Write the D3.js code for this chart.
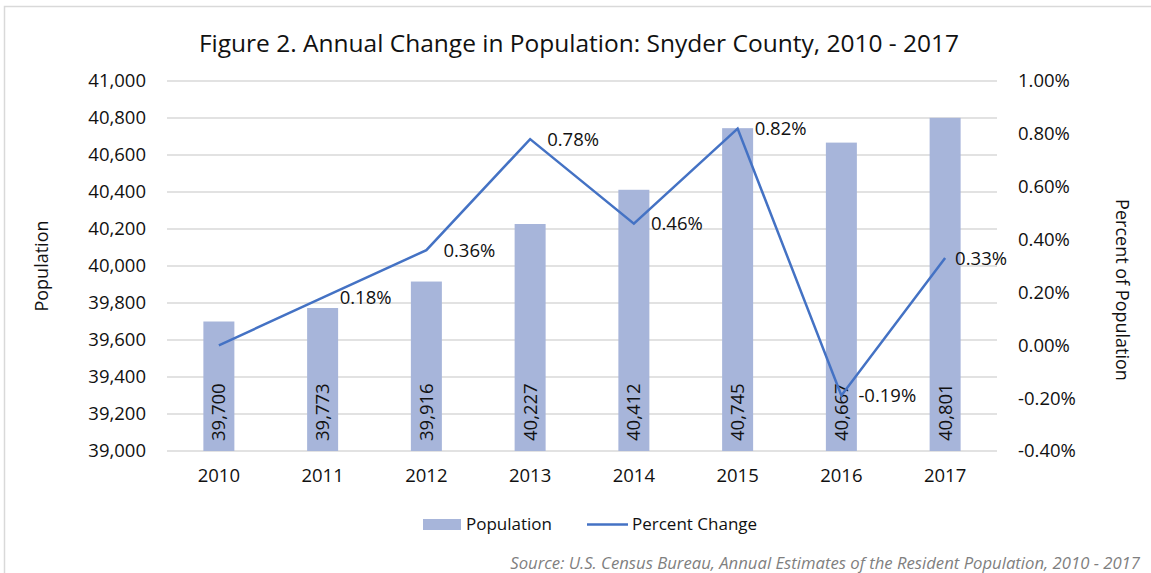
<!DOCTYPE html>
<html>
<head>
<meta charset="utf-8">
<script src="https://cdn.jsdelivr.net/npm/d3@7"></script>
<style>
  body { margin: 0; background: #fff; }
  text { font-family: "Open Sans", sans-serif; fill: #000; }
</style>
</head>
<body>
<div id="chart"></div>
<script>
const years = ["2010", "2011", "2012", "2013", "2014", "2015", "2016", "2017"];
const population = [39700, 39773, 39916, 40227, 40412, 40745, 40667, 40801];
const percentChange = [0.0, 0.18, 0.36, 0.78, 0.46, 0.82, -0.19, 0.33];
const showPctLabel = [false, true, true, true, true, true, true, true];
const popTicks = [39000, 39200, 39400, 39600, 39800, 40000, 40200, 40400, 40600, 40800, 41000];
const pctTicks = [-0.4, -0.2, 0.0, 0.2, 0.4, 0.6, 0.8, 1.0];

const width = 1151, height = 573;
const plot = { left: 167, right: 997, top: 81, bottom: 451 };

// Excel style: plain hyphen for negatives
const pctFmt = d => d3.format(".2f")(d).replace("\u2212", "-") + "%";

const svg = d3.select("#chart").append("svg")
    .attr("width", width)
    .attr("height", height);

// outer frame (Excel chart border)
svg.append("rect")
    .attr("x", 4.5).attr("y", 6.5)
    .attr("width", 1160).attr("height", 580)
    .attr("fill", "none")
    .attr("stroke", "#d9d9d9")
    .attr("stroke-width", 1.5);

const x = d3.scaleBand()
    .domain(years)
    .range([plot.left, plot.right]);

const yPop = d3.scaleLinear()
    .domain([39000, 41000])
    .range([plot.bottom, plot.top]);

const yPct = d3.scaleLinear()
    .domain([-0.4, 1.0])
    .range([plot.bottom, plot.top]);

// gridlines
svg.append("g")
    .selectAll("line")
    .data(popTicks)
    .enter()
    .append("line")
    .attr("x1", plot.left).attr("x2", plot.right)
    .attr("y1", d => yPop(d)).attr("y2", d => yPop(d))
    .attr("stroke", "#d9d9d9")
    .attr("stroke-width", 1.3);

// left axis
const leftAxis = svg.append("g")
    .attr("transform", `translate(${plot.left - 21},0)`)
    .call(d3.axisLeft(yPop).tickValues(popTicks).tickFormat(d3.format(",")).tickSize(0).tickPadding(0));
leftAxis.select(".domain").remove();
leftAxis.selectAll("text").style("font-size", "18.5px").style("font-family", "Open Sans").style("fill", "#111");

// right axis
const rightAxis = svg.append("g")
    .attr("transform", `translate(${plot.right + 21},0)`)
    .call(d3.axisRight(yPct).tickValues(pctTicks).tickFormat(pctFmt).tickSize(0).tickPadding(0));
rightAxis.select(".domain").remove();
rightAxis.selectAll("text").style("font-size", "18.5px").style("font-family", "Open Sans").style("fill", "#111");

// bottom axis
const bottomAxis = svg.append("g")
    .attr("transform", `translate(0,${plot.bottom + 18})`)
    .call(d3.axisBottom(x).tickSize(0).tickPadding(0));
bottomAxis.select(".domain").remove();
bottomAxis.selectAll("text").style("font-size", "18.5px").style("font-family", "Open Sans").style("fill", "#111");

// bars
const barW = 31;
svg.append("g")
    .selectAll("rect")
    .data(years)
    .enter()
    .append("rect")
    .attr("x", (d, i) => x(d) + x.bandwidth() / 2 - barW / 2)
    .attr("y", (d, i) => yPop(population[i]))
    .attr("width", barW)
    .attr("height", (d, i) => yPop(39000) - yPop(population[i]))
    .attr("fill", "#a7b5da");

// bar value labels (rotated, inside base)
svg.append("g")
    .selectAll("text")
    .data(years)
    .enter()
    .append("text")
    .attr("transform", (d, i) => `translate(${x(d) + x.bandwidth() / 2},${plot.bottom - 10}) rotate(-90)`)
    .attr("dy", "0.35em")
    .attr("text-anchor", "start")
    .style("font-size", "18.5px")
    .style("fill", "#111")
    .text((d, i) => d3.format(",")(population[i]));

// percent change line
const line = d3.line()
    .x((d, i) => x(years[i]) + x.bandwidth() / 2)
    .y(d => yPct(d));

svg.append("path")
    .datum(percentChange)
    .attr("d", line)
    .attr("fill", "none")
    .attr("stroke", "#4472c4")
    .attr("stroke-width", 2.5)
    .attr("stroke-linejoin", "miter");

// line labels to the right of points
const lbl = svg.append("g")
    .selectAll("text")
    .data(years.filter((d, i) => showPctLabel[i]))
    .enter()
    .append("text")
    .attr("y", d => yPct(percentChange[years.indexOf(d)]))
    .attr("dy", "0.35em")
    .style("font-size", "18.5px")
    .style("fill", "#111")
    .text(d => pctFmt(percentChange[years.indexOf(d)]));

lbl.each(function (d) {
    const px = x(d) + x.bandwidth() / 2 + 17;
    const w = this.getComputedTextLength();
    // keep labels from running past the plot area edge
    d3.select(this).attr("x", Math.min(px, plot.right + 10 - w));
});

// title
svg.append("text")
    .attr("x", 579).attr("y", 52)
    .attr("text-anchor", "middle")
    .style("font-size", "24.5px")
    .style("fill", "#111")
    .text("Figure 2. Annual Change in Population: Snyder County, 2010 - 2017");

// axis titles
svg.append("text")
    .attr("transform", `translate(42,266) rotate(-90)`)
    .attr("text-anchor", "middle")
    .attr("dy", "0.35em")
    .style("font-size", "18px")
    .style("fill", "#111")
    .text("Population");

svg.append("text")
    .attr("transform", `translate(1122,290) rotate(90)`)
    .attr("text-anchor", "middle")
    .attr("dy", "0.35em")
    .style("font-size", "18px")
    .style("fill", "#111")
    .text("Percent of Population");

// legend
const legend = svg.append("g");
legend.append("rect")
    .attr("x", 423).attr("y", 519)
    .attr("width", 38).attr("height", 11)
    .attr("fill", "#a7b5da");
legend.append("text")
    .attr("x", 466).attr("y", 524)
    .attr("dy", "0.35em")
    .style("font-size", "17px")
    .style("fill", "#111")
    .text("Population");
legend.append("line")
    .attr("x1", 587).attr("x2", 628)
    .attr("y1", 524.5).attr("y2", 524.5)
    .attr("stroke", "#4472c4")
    .attr("stroke-width", 2.5);
legend.append("text")
    .attr("x", 632).attr("y", 524)
    .attr("dy", "0.35em")
    .style("font-size", "17px")
    .style("fill", "#111")
    .text("Percent Change");

// source note
svg.append("text")
    .attr("x", 1140).attr("y", 569)
    .attr("text-anchor", "end")
    .style("font-size", "16.7px")
    .style("font-style", "italic")
    .style("fill", "#7f7f7f")
    .text("Source: U.S. Census Bureau, Annual Estimates of the Resident Population, 2010 - 2017");
</script>
</body>
</html>
